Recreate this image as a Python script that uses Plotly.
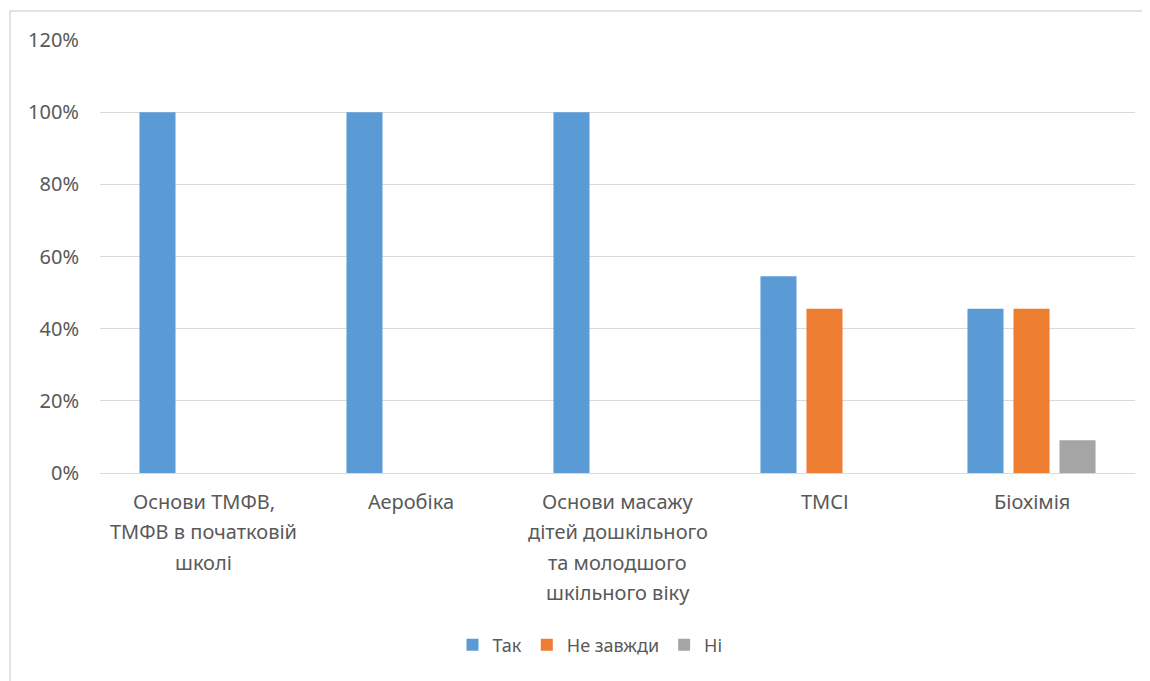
import plotly.graph_objects as go

categories = [
    "Основи ТМФВ,<br>ТМФВ в початковій<br>школі",
    "Аеробіка",
    "Основи масажу<br>дітей дошкільного<br>та молодшого<br>шкільного віку",
    "ТМСІ",
    "Біохімія",
]
series_names = ["Так", "Не завжди", "Ні"]
tak = [1.00, 1.00, 1.00, 0.545, 0.455]
ne_zavzhdy = [0.0, 0.0, 0.0, 0.455, 0.455]
ni = [0.0, 0.0, 0.0, 0.0, 0.091]
colors = ["#5B9BD5", "#ED7D31", "#A5A5A5"]
y_ticks = [0, 0.2, 0.4, 0.6, 0.8, 1.0, 1.2]
y_ticklabels = ["0%", "20%", "40%", "60%", "80%", "100%", "120%"]

FONT = "Noto Sans"
TXT = "#595959"

# page has an 8px body margin; figure coordinates are page - 8
OFF = 8
W, H = 1150 - OFF, 681 - OFF
L, T = 100 - OFF, 40 - OFF
PLOT_R, PLOT_B = 1135 - OFF, 473 - OFF
R, B = W - PLOT_R, H - PLOT_B
pw, ph = W - L - R, H - T - B
def px_x(p): return (p - OFF - L) / pw      # page px -> paper x
def px_y(p): return (PLOT_B - (p - OFF)) / ph  # page px -> paper y

fig = go.Figure()
for name, vals, col in zip(series_names, [tak, ne_zavzhdy, ni], colors):
    fig.add_trace(go.Bar(x=list(range(len(categories))), y=vals, name=name,
                         marker=dict(color=col, line=dict(width=0))))

# category labels, one annotation per line for Excel-like line spacing
annotations = []
for i, lab in enumerate(categories):
    for j, line in enumerate(lab.split("<br>")):
        annotations.append(dict(x=i, xref="x", y=px_y(501 + 30.5 * j), yref="paper",
                                text=line, showarrow=False, yanchor="middle",
                                font=dict(family=FONT, size=20, color=TXT)))

shapes = [
    dict(type="line", xref="paper", yref="paper", x0=px_x(10), x1=px_x(10),
         y0=px_y(11), y1=px_y(690), line=dict(color="#D9D9D9", width=1.5)),
    dict(type="line", xref="paper", yref="paper", x0=px_x(10), x1=px_x(1160),
         y0=px_y(11), y1=px_y(11), line=dict(color="#D9D9D9", width=1.5)),
]

fig.update_layout(
    width=W, height=H,
    margin=dict(l=L, r=R, t=T, b=B),
    paper_bgcolor="white", plot_bgcolor="white",
    barmode="group", bargap=0.333, bargroupgap=0.217,
    font=dict(family=FONT, color=TXT),
    xaxis=dict(range=[-0.5, 4.5], tickvals=list(range(5)), showticklabels=False,
               showgrid=False, zeroline=False, showline=True, linecolor="#D9D9D9",
               linewidth=1, ticks=""),
    yaxis=dict(range=[0, 1.2], tickvals=y_ticks, ticktext=y_ticklabels,
               showgrid=True, gridcolor="#D9D9D9", gridwidth=1, zeroline=False,
               showline=False, ticks="", ticklabelstandoff=20,
               tickfont=dict(family=FONT, size=20, color=TXT)),
    legend=dict(orientation="h", x=px_x(590), xanchor="center", y=px_y(645),
                yanchor="middle", font=dict(family=FONT, size=18, color=TXT),
                itemwidth=30, tracegroupgap=0),
    annotations=annotations,
    shapes=shapes,
    showlegend=True,
)

fig.write_html("out.html")
